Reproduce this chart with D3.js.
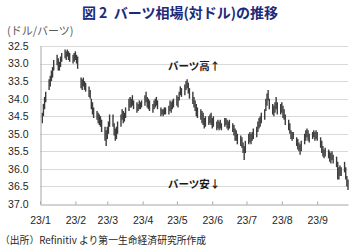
<!DOCTYPE html>
<html lang="ja">
<head>
<meta charset="UTF-8">
<script src="https://d3js.org/d3.v7.min.js"></script>
<style>
  body { margin: 0; background: #fff; }
  .grid-line { stroke: #d9d9d9; stroke-width: 1px; }
  .axis-line { stroke: #a6a6a6; stroke-width: 1px; }
  .jp { font-family: "Noto Sans CJK JP", sans-serif; }
  .num { font-family: "Liberation Sans", Arial, sans-serif; font-size: 10.5px; fill: #262626; }
</style>
</head>
<body>
<div id="container"></div>
<script>
// Daily low / high of THB per USD, Jan 3 - Sep 28 2023 (trading days)
var lowRate = [
  34.40,34.15,33.95,33.80, 33.45,33.35,33.20,33.10,32.90, 32.75,32.85,32.95,32.80,32.70, 32.60,32.65,32.60,32.65,32.70, 32.75,32.70,
  32.65,32.75,32.80, 33.40,33.45,33.40,33.50,33.55, 33.65,33.75,34.00,34.10,34.25, 34.35,34.40,34.45,34.50,34.60, 34.80,34.90,
  34.80,34.65,34.45, 34.45,34.70,34.85,34.80,34.65, 34.45,34.30,34.35,34.40,34.25, 34.00,33.95,34.00,33.90,34.05, 34.10,34.15,34.05,34.10,34.05,
  33.90,33.80,33.95,34.00,34.05, 34.15,34.05,34.00,33.95,34.05, 34.25,34.30,34.30,34.25,34.25, 34.20,34.05,34.10,34.05,34.00,
  33.90,33.95,33.80,33.65,33.70, 33.60,33.50,33.45,33.55,33.70, 33.80,33.95,34.05,34.15,34.25, 34.30,34.35,34.40,34.55,34.50, 34.50,34.45,34.40,
  34.55,34.50, 34.65,34.60,34.65,34.60,34.70, 34.55,34.55,34.60,34.65,34.60, 34.70,34.75,34.85,34.90,35.00, 35.05,35.10,35.25,35.35,35.20,
  35.00,34.95,35.00,34.95,34.85, 34.80,34.65,34.55,34.50,34.40, 34.30,34.00,33.85,33.75,34.00, 34.15,34.20,34.10,33.95,34.10, 34.15,
  34.10,34.20,34.30,34.45, 34.60,34.70,34.90,34.95,34.95, 35.10,35.15,35.25,35.30,35.20, 35.00,34.90,34.85,34.90,35.00, 34.95,34.90,34.95,34.90,
  34.95, 35.10,35.20,35.35,35.45,35.40, 35.45,35.50,35.55,35.50,35.60, 35.65,35.80,35.95,35.90,35.95, 35.80,35.95,36.20,36.30
];
var highRate = [
  34.70,34.50,34.30,34.10, 33.75,33.65,33.50,33.40,33.20, 33.05,33.20,33.20,33.10,32.95, 32.85,32.90,32.80,32.90,32.95, 33.00,32.95,
  32.90,33.00,33.15, 33.70,33.75,33.65,33.75,33.80, 33.95,34.00,34.30,34.45,34.55, 34.60,34.70,34.75,34.80,34.95, 35.20,35.35,
  35.15,35.00,34.80, 34.80,35.05,35.20,35.15,35.00, 34.80,34.60,34.70,34.65,34.55, 34.35,34.25,34.25,34.20,34.30, 34.40,34.35,34.30,34.30,34.25,
  34.20,34.10,34.25,34.30,34.35, 34.40,34.30,34.25,34.20,34.30, 34.50,34.45,34.50,34.45,34.45, 34.45,34.35,34.40,34.30,34.25,
  34.20,34.25,34.05,33.90,33.95, 33.90,33.75,33.70,33.85,34.00, 34.15,34.25,34.35,34.50,34.55, 34.60,34.70,34.75,34.85,34.80, 34.75,34.70,34.75,
  34.85,34.80, 34.90,34.85,34.90,34.85,34.90, 34.80,34.75,34.85,34.90,34.85, 34.95,35.05,35.20,35.20,35.30, 35.35,35.40,35.55,35.75,35.55,
  35.30,35.25,35.30,35.20,35.15, 35.10,34.95,34.85,34.80,34.70, 34.60,34.35,34.20,34.05,34.30, 34.45,34.50,34.40,34.30,34.45, 34.45,
  34.40,34.55,34.60,34.75, 34.90,35.00,35.15,35.20,35.15, 35.35,35.45,35.50,35.60,35.50, 35.30,35.20,35.10,35.20,35.25, 35.15,35.10,35.20,35.15,
  35.20, 35.40,35.55,35.65,35.70,35.65, 35.70,35.80,35.85,35.75,35.85, 35.95,36.30,36.30,36.20,36.20, 36.10,36.30,36.50,36.60
];
var yTicks = [32.5, 33.0, 33.5, 34.0, 34.5, 35.0, 35.5, 36.0, 36.5, 37.0];
var monthLabels = ["23/1", "23/2", "23/3", "23/4", "23/5", "23/6", "23/7", "23/8", "23/9"];

var width = 362, height = 252;
var plot = { left: 40, right: 348, top: 46, bottom: 204 };

var svg = d3.select("#container").append("svg")
    .attr("width", width)
    .attr("height", height);

// weekdays from first to last trading day
var days = d3.timeDay.range(new Date(2023, 0, 3), new Date(2023, 8, 29))
    .filter(function (d) { return d.getDay() !== 0 && d.getDay() !== 6; });
var data = days.slice(0, lowRate.length).map(function (d, i) {
    return { date: d, low: lowRate[i], high: highRate[i] };
});

var x = d3.scaleTime()
    .domain([new Date(2023, 0, 1), new Date(2023, 8, 28)])
    .range([plot.left, plot.right]);
var y = d3.scaleLinear().domain([32.5, 37.0]).range([plot.top, plot.bottom]);

// horizontal grid
svg.append("g").selectAll("line")
    .data(yTicks.slice(0, -1))
    .enter().append("line")
    .attr("class", "grid-line")
    .attr("x1", plot.left).attr("x2", plot.right)
    .attr("y1", function (d) { return Math.round(y(d)) + 0.5; })
    .attr("y2", function (d) { return Math.round(y(d)) + 0.5; });

// high-low bars
svg.append("g").selectAll("line")
    .data(data)
    .enter().append("line")
    .attr("x1", function (d) { return x(d.date); })
    .attr("x2", function (d) { return x(d.date); })
    .attr("y1", function (d) { return y(d.low); })
    .attr("y2", function (d) { return y(d.high); })
    .attr("stroke", "#3b3b3b")
    .attr("stroke-width", 1.4);

// y axis
var yAxis = svg.append("g")
    .attr("transform", "translate(" + (plot.left + 0.5) + ",0)")
    .call(d3.axisLeft(y).tickValues(yTicks).tickFormat(d3.format(".1f")).tickSize(0).tickPadding(12));
yAxis.select(".domain").attr("class", "axis-line");
yAxis.selectAll("text").attr("class", "num");

// x axis, ticks pointing up
var months = d3.timeMonth.range(new Date(2023, 0, 1), new Date(2023, 9, 1));
var xAxis = svg.append("g")
    .attr("transform", "translate(0," + (Math.round(plot.bottom) + 0.5) + ")")
    .call(d3.axisBottom(x).tickValues(months)
        .tickFormat(function (d, i) { return monthLabels[i]; })
        .tickSizeInner(-3).tickSizeOuter(0).tickPadding(12));
xAxis.select(".domain").attr("class", "axis-line");
xAxis.selectAll(".tick line").attr("stroke", "#a6a6a6");
xAxis.selectAll("text").attr("class", "num");

// title
svg.append("text")
    .attr("class", "jp")
    .attr("x", 180).attr("y", 18)
    .attr("text-anchor", "middle")
    .attr("font-size", "14px")
    .attr("font-weight", "bold")
    .attr("fill", "#1b2a7a")
    .style("white-space", "pre")
    .text("図 2  バーツ相場(対ドル)の推移");

// unit
svg.append("text")
    .attr("class", "jp")
    .attr("x", 7).attr("y", 35)
    .attr("font-size", "11px")
    .attr("fill", "#595959")
    .text("(ドル/バーツ)");

// annotations
svg.append("text")
    .attr("class", "jp")
    .attr("x", 168).attr("y", 70)
    .attr("font-size", "10.5px")
    .attr("font-weight", "bold")
    .attr("fill", "#1a1a1a")
    .text("バーツ高↑");
svg.append("text")
    .attr("class", "jp")
    .attr("x", 168).attr("y", 188)
    .attr("font-size", "10.5px")
    .attr("font-weight", "bold")
    .attr("fill", "#1a1a1a")
    .text("バーツ安↓");

// source
svg.append("text")
    .attr("class", "jp")
    .attr("x", 0).attr("y", 244)
    .attr("font-size", "9.8px")
    .attr("fill", "#262626")
    .text("（出所）Refinitiv より第一生命経済研究所作成");
</script>
</body>
</html>
